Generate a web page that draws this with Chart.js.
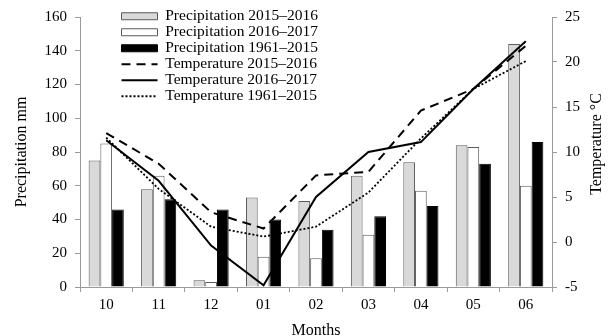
<!DOCTYPE html>
<html>
<head>
<meta charset="utf-8">
<script src="https://cdn.jsdelivr.net/npm/chart.js@4"></script>
<style>
  body { margin: 0; background: #fff; }
  #wrap { width: 610px; height: 336px; }
</style>
</head>
<body>
<div id="wrap"><canvas id="chart" width="610" height="336"></canvas></div>
<script>
// months (Oct - Jun)
const months = ['10', '11', '12', '01', '02', '03', '04', '05', '06'];

// precipitation, mm
const precip1516 = [75, 58, 4, 53, 51, 66, 74, 84, 144];
const precip1617 = [85, 66, 3, 18, 17, 31, 57, 83, 60];
const precip6115 = [46, 52, 46, 40, 34, 42, 48, 73, 86];

// temperature, °C
const temp1516 = [12.1, 8.7, 3.3, 1.5, 7.4, 7.8, 14.6, 17.0, 21.8];
const temp1617 = [11.3, 6.8, -0.4, -4.8, 5.0, 10.0, 11.1, 17.0, 22.3];
const temp6115 = [11.6, 5.9, 1.7, 0.6, 1.7, 5.5, 11.5, 17.0, 20.1];

const serif = "'Liberation Serif', 'Times New Roman', serif";
const axisGrey = '#9a9a9a';

// legend sits inside the plot, a bit right of the left axis
const legendShift = {
    id: 'legendShift',
    afterLayout(chart) {
        chart.legend.left = chart.chartArea.left + 41;
        chart.legend.top = 8;
    }
};

// right axis title reads bottom-to-top like the left one
const rightTitle = {
    id: 'rightTitle',
    afterDraw(chart) {
        const ctx = chart.ctx;
        const area = chart.chartArea;
        ctx.save();
        ctx.fillStyle = '#000';
        ctx.font = '16px ' + serif;
        ctx.textAlign = 'center';
        ctx.textBaseline = 'middle';
        ctx.translate(597, (area.top + area.bottom) / 2 - 8);
        ctx.rotate(-Math.PI / 2);
        ctx.fillText('Temperature °C', 0, 0);
        ctx.restore();
    }
};

function lineSet(label, data, dash, width) {
    return {
        type: 'line',
        label: label,
        data: data,
        yAxisID: 'yT',
        borderColor: '#000',
        backgroundColor: '#000',
        borderWidth: width,
        borderDash: dash,
        pointRadius: 0,
        tension: 0,
        fill: false,
        order: 0
    };
}

new Chart(document.getElementById('chart'), {
    type: 'bar',
    data: {
        labels: months,
        datasets: [
            { label: 'Precipitation 2015–2016', data: precip1516, yAxisID: 'yP',
              backgroundColor: '#d9d9d9', borderColor: '#595959', borderWidth: 1, order: 1 },
            { label: 'Precipitation 2016–2017', data: precip1617, yAxisID: 'yP',
              backgroundColor: '#fff', borderColor: '#595959', borderWidth: 1, order: 1 },
            { label: 'Precipitation 1961–2015', data: precip6115, yAxisID: 'yP',
              backgroundColor: '#000', borderColor: '#000', borderWidth: 1, order: 1 },
            lineSet('Temperature 2015–2016', temp1516, [9, 6], 2),
            lineSet('Temperature 2016–2017', temp1617, [], 2),
            lineSet('Temperature 1961–2015', temp6115, [2, 2], 1.8)
        ]
    },
    options: {
        responsive: false,
        animation: false,
        layout: { padding: { top: 16, right: 0, left: 0, bottom: 0 } },
        datasets: {
            bar: { categoryPercentage: 0.67, barPercentage: 1.0 }
        },
        scales: {
            x: {
                afterFit(scale) { scale.height = 49; },
                grid: { drawOnChartArea: false, tickLength: 5, color: axisGrey },
                border: { color: axisGrey },
                ticks: { color: '#000', font: { family: serif, size: 15 }, padding: 4 },
                title: { display: true, text: 'Months', color: '#000',
                         font: { family: serif, size: 16, lineHeight: 0.65 }, padding: 0 }
            },
            yP: {
                position: 'left',
                min: 0, max: 160,
                afterFit(scale) { scale.width = 80; },
                grid: { drawOnChartArea: false, tickLength: 5, color: axisGrey },
                border: { color: axisGrey },
                ticks: { stepSize: 20, color: '#000', font: { family: serif, size: 15 }, padding: 8 },
                title: { display: true, text: 'Precipitation mm', color: '#000',
                         font: { family: serif, size: 16, lineHeight: 1 }, padding: { top: 14, bottom: 0 } }
            },
            yT: {
                position: 'right',
                min: -5, max: 25,
                afterFit(scale) { scale.width = 58; },
                grid: { drawOnChartArea: false, tickLength: 5, color: axisGrey },
                border: { color: axisGrey },
                ticks: { stepSize: 5, color: '#000', font: { family: serif, size: 15 }, padding: 8 }
            }
        },
        plugins: {
            tooltip: { enabled: false },
            legend: {
                position: 'chartArea',
                align: 'start',
                labels: {
                    color: '#000',
                    font: { family: serif, size: 15.5 },
                    usePointStyle: true,
                    pointStyleWidth: 36,
                    boxHeight: 7,
                    padding: 0.5,
                    sort: (a, b) => a.datasetIndex - b.datasetIndex,
                    generateLabels(chart) {
                        const items = Chart.defaults.plugins.legend.labels.generateLabels(chart);
                        items.forEach(item => {
                            const ds = chart.data.datasets[item.datasetIndex];
                            if (ds.type === 'line') {
                                item.pointStyle = 'line';
                                item.lineDash = ds.borderDash;
                                item.lineWidth = ds.borderWidth;
                                item.strokeStyle = ds.borderColor;
                            } else {
                                item.pointStyle = 'rect';
                            }
                        });
                        return items;
                    }
                }
            }
        }
    },
    plugins: [legendShift, rightTitle]
});
</script>
</body>
</html>
